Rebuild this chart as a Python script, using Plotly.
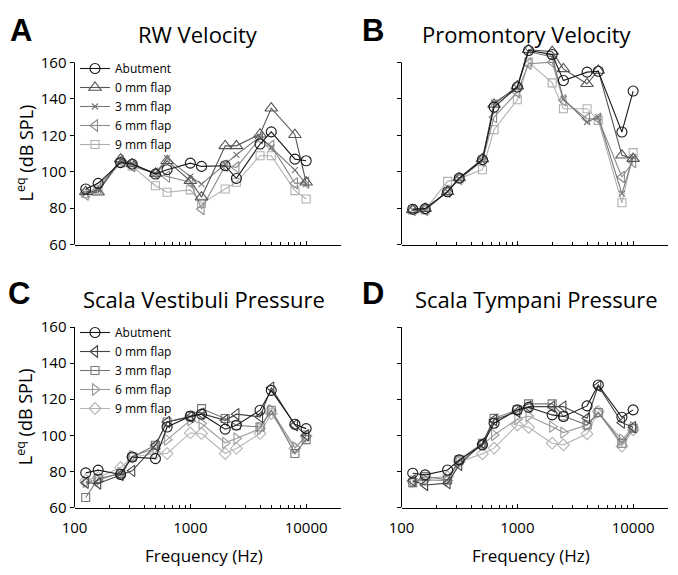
import math
import plotly.graph_objects as go

# ---------------- data ----------------
freqs = [125, 160, 250, 315, 500, 630, 1000, 1250, 2000, 2500, 4000, 5000, 8000, 10000]
series_names = ["Abutment", "0 mm flap", "3 mm flap", "6 mm flap", "9 mm flap"]

# A: RW velocity
rw_abut = [90.5, 93.6, 105, 104.2, 98.7, 101.1, 104.7, 102.9, 103.3, 96.3, 115.2, 121.9, 106.9, 106]
rw_0 = [89, 88.7, 106.9, 104.2, 99, 106, 95, 86, 114.2, 114.2, 120.6, 134.9, 120.3, 94.2]
rw_3 = [88, 90, 106, 104, 99, 107.5, 97.3, 93.2, 104.2, 109.3, 119.2, 113.3, 100.9, 93.2]
rw_6 = [87.4, 91.8, 106, 103, 99, 97.3, 94.2, 79.5, 103.3, 102.4, 118.4, 114.2, 93.6, 94]
rw_9 = [88, 90, 105, 103, 92.3, 88.7, 90, 82.6, 90.5, 94.2, 108.8, 108.8, 89.6, 85]

# B: Promontory velocity
pr_abut = [79.4, 79.7, 89, 96.5, 106.6, 135.5, 146.5, 166.6, 164.4, 150.1, 154.7, 155.2, 121.8, 144.3]
pr_0 = [79, 79.7, 89, 96.5, 107, 137, 147, 167, 166, 156.5, 148.3, 155.6, 109, 107.2]
pr_3 = [79, 79, 89, 96, 106, 138, 146, 166, 163, 140, 127.3, 130, 88, 108]
pr_6 = [79, 79, 89, 96, 106, 130, 143.7, 159.3, 160.2, 139.2, 129.1, 129.1, 97.1, 105.3]
pr_9 = [79, 79, 94.7, 96.2, 101.1, 123.1, 139.5, 160.2, 148.8, 134.6, 134.6, 128.2, 82.9, 110.5]

# C: Scala vestibuli pressure
sv_abut = [79.2, 80.7, 78.3, 88, 87.1, 104.6, 110.6, 111.7, 103.4, 105.6, 113.9, 124.9, 106.1, 103.7]
sv_0 = [73.7, 73.3, 78, 80.3, 94.5, 107.4, 110.2, 112, 108.3, 111.7, 110.2, 126.4, 105.6, 100]
sv_3 = [65.5, 76, 78.8, 88, 94.5, 107.4, 110.6, 114.8, 109.3, 105.6, 104.6, 113.9, 89.9, 97.6]
sv_6 = [74.2, 75.1, 79.2, 88.4, 92.7, 97.6, 108.3, 106.5, 95.8, 98.2, 103.7, 113.9, 93.2, 99.5]
sv_9 = [75.1, 76.6, 82.1, 88, 89.9, 89.9, 101.3, 101, 89.9, 92.7, 101, 112, 92.7, 99.5]

# D: Scala tympani pressure
st_abut = [79, 78.1, 80.8, 86.4, 94.7, 106.7, 114.1, 115.5, 111.3, 110.4, 116.3, 127.9, 110, 114.1]
st_0 = [74.9, 72.5, 73.5, 83.6, 95.6, 108.5, 113.1, 115.9, 115.9, 115.9, 109.4, 127.3, 107, 104.5]
st_3 = [73.8, 77.2, 75.3, 86.4, 95.6, 109.4, 114.1, 117.4, 117.4, 110.7, 105.7, 112.6, 95.6, 103.9]
st_6 = [74.4, 75.3, 74.9, 85.4, 94.6, 100.2, 108.9, 110.7, 104.8, 101.5, 105.7, 112.6, 97.5, 104.5]
st_9 = [74.4, 76.2, 77.1, 85.4, 89.7, 92.9, 105.7, 104.4, 95.6, 94.7, 100.8, 113.2, 94, 103]

panel_titles = ["RW Velocity", "Promontory Velocity", "Scala Vestibuli Pressure", "Scala Tympani Pressure"]
panel_letters = ["A", "B", "C", "D"]
ytick_vals = [60, 80, 100, 120, 140, 160]
xtick_vals = [100, 1000, 10000]
xtick_text = ["100", "1000", "10000"]
minor_vals = [200, 300, 400, 500, 600, 700, 800, 900,
              2000, 3000, 4000, 5000, 6000, 7000, 8000, 9000, 20000]

# ---------------- geometry (page pixels) ----------------
PAGE_W, PAGE_H = 678, 575
OFF = 8                      # default body margin of the html page
FW, FH = PAGE_W - 2 * OFF, PAGE_H - 2 * OFF


def px(p):
    return (p - OFF) / FW


def py(p):
    return 1 - (p - OFF) / FH


FONT = "Open Sans"
style_top = [
    dict(symbol="circle-open", color="#1a1a1a", size=10),
    dict(symbol="triangle-up-open", color="#555555", size=11),
    dict(symbol="x-thin", color="#777777", size=6),
    dict(symbol="triangle-left-open", color="#8c8c8c", size=10),
    dict(symbol="square-open", color="#b0b0b0", size=8),
]
style_bot = [
    dict(symbol="circle-open", color="#1a1a1a", size=10),
    dict(symbol="triangle-left-open", color="#444444", size=10),
    dict(symbol="square-open", color="#777777", size=8),
    dict(symbol="triangle-right-open", color="#999999", size=10),
    dict(symbol="diamond-open", color="#b5b5b5", size=9),
]

panels = [
    dict(data=[rw_abut, rw_0, rw_3, rw_6, rw_9], style=style_top, legend="legend"),
    dict(data=[pr_abut, pr_0, pr_3, pr_6, pr_9], style=style_top, legend=None),
    dict(data=[sv_abut, sv_0, sv_3, sv_6, sv_9], style=style_bot, legend="legend2"),
    dict(data=[st_abut, st_0, st_3, st_6, st_9], style=style_bot, legend=None),
]

# plot areas (x: 100 Hz .. 20000 Hz, y: 60 .. 160 dB), page pixels
x_px = [(74.5, 341.0), (401.5, 668.0), (74.5, 341.0), (401.5, 668.0)]
y_px = [(62.5, 244.5), (62.5, 244.5), (327.0, 507.5), (327.0, 507.5)]
title_cx = [198, 527, 204, 536]
title_cy = [34, 34, 299, 299]
letter_cx = [21, 373, 19, 373]
letter_cy = [30, 30, 293, 293]
YMAX = 170  # extra headroom so points above 160 are not clipped

fig = go.Figure()
annotations = []
shapes = []

for i, p in enumerate(panels):
    n = "" if i == 0 else str(i + 1)
    xa, ya = "x" + n, "y" + n
    for k in reversed(range(5)):
        st = p["style"][k]
        tr = go.Scatter(
            x=freqs, y=p["data"][k], mode="lines+markers", name=series_names[k],
            xaxis=xa, yaxis=ya, cliponaxis=False,
            line=dict(color=st["color"], width=1.1),
            marker=dict(symbol=st["symbol"], size=st["size"], color=st["color"],
                        line=dict(color=st["color"], width=1.1)),
            showlegend=p["legend"] is not None,
        )
        if p["legend"] is not None:
            tr.legend = p["legend"]
        fig.add_trace(tr)

    x0, x1 = x_px[i]
    ytop, ybot = y_px[i]
    ppd = (ybot - ytop) / 100.0
    ytop_ext = ybot - (YMAX - 60) * ppd
    bottom = i >= 2
    fig.layout["xaxis" + n] = dict(
        domain=[px(x0), px(x1)], anchor=ya, type="log",
        range=[2, math.log10(20000)], showline=True, linecolor="black", linewidth=1,
        ticks="inside", ticklen=4, tickcolor="black", tickvals=xtick_vals, ticktext=xtick_text,
        showticklabels=bottom, ticklabelstandoff=6,
        tickfont=dict(family=FONT, size=15, color="black"),
        minor=dict(tickvals=minor_vals, ticks="inside", ticklen=3, tickcolor="black", showgrid=False),
        showgrid=False, zeroline=False, automargin=False,
    )
    fig.layout["yaxis" + n] = dict(
        domain=[py(ybot), py(ytop_ext)], anchor=xa,
        range=[60, YMAX], showline=False, tickvals=ytick_vals,
        ticks="outside", ticklen=4, tickcolor="black",
        showticklabels=(i % 2 == 0),
        tickfont=dict(family=FONT, size=15, color="black"),
        showgrid=False, zeroline=False, automargin=False,
    )
    shapes.append(dict(type="line", xref=xa + " domain", yref=ya, x0=0, x1=0, y0=60, y1=160,
                       line=dict(color="black", width=1)))

    annotations.append(dict(text=panel_titles[i], x=px(title_cx[i]), y=py(title_cy[i]),
                            xref="paper", yref="paper", xanchor="center", yanchor="middle",
                            showarrow=False, font=dict(family=FONT, size=22, color="black")))
    annotations.append(dict(text="<b>" + panel_letters[i] + "</b>", x=px(letter_cx[i]),
                            y=py(letter_cy[i]), xref="paper", yref="paper",
                            xanchor="center", yanchor="middle", showarrow=False,
                            font=dict(family="Liberation Sans", size=31, color="black")))
    if i % 2 == 0:
        annotations.append(dict(text="L<sup>eq</sup> (dB SPL)", x=px(25), y=py((ytop + ybot) / 2),
                                xref="paper", yref="paper", xanchor="center", yanchor="middle",
                                textangle=-90, showarrow=False,
                                font=dict(family=FONT, size=18, color="black")))
    if bottom:
        annotations.append(dict(text="Frequency (Hz)", x=px((x0 + x1) / 2 - 4), y=py(555),
                                xref="paper", yref="paper", xanchor="center", yanchor="middle",
                                showarrow=False, font=dict(family=FONT, size=17, color="black")))

legend_common = dict(xanchor="left", yanchor="top", bgcolor="rgba(0,0,0,0)",
                     font=dict(family=FONT, size=12, color="black"), traceorder="reversed",
                     itemwidth=30, borderwidth=0)
fig.update_layout(
    width=FW, height=FH, margin=dict(l=0, r=0, t=0, b=0, autoexpand=False),
    paper_bgcolor="white", plot_bgcolor="white",
    font=dict(family=FONT, color="black"),
    annotations=annotations, shapes=shapes,
    legend=dict(x=px(75), y=py(54), **legend_common),
    legend2=dict(x=px(75), y=py(318), **legend_common),
)

fig.write_html("out.html")
